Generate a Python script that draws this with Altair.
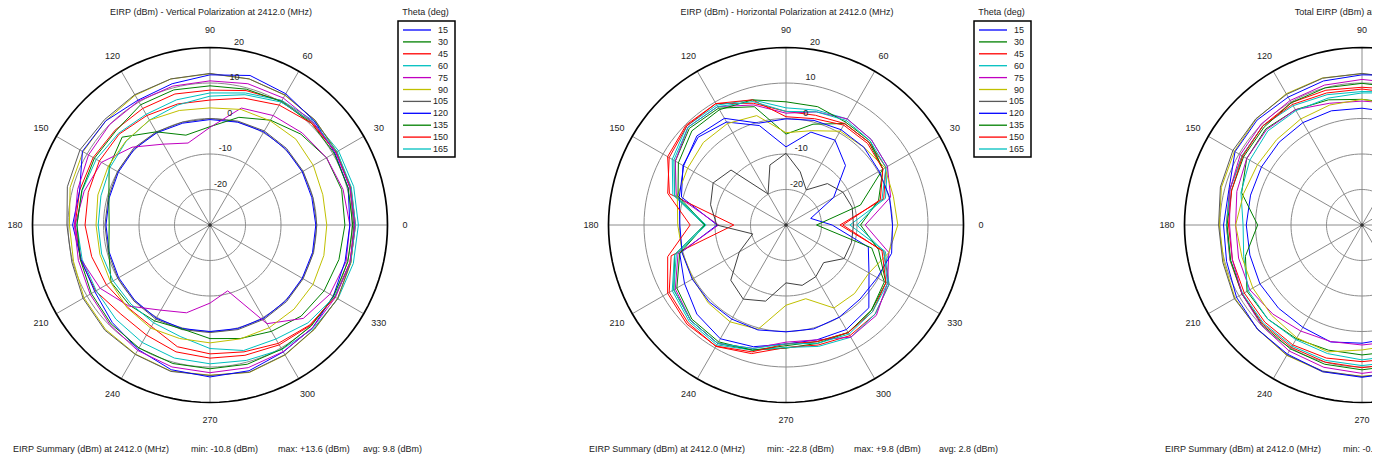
import altair as alt
import pandas as pd

# ---------------- data (dBm), phi = 0..345 step 15 ----------------
PHI = list(range(0, 360, 15))
THETA_LABELS = ["15", "30", "45", "60", "75", "90", "105", "120", "135", "150", "165"]
THETA_COLORS = ["blue", "green", "red", "cyan", "magenta", "yellow", "gray",
                "blue", "green", "red", "cyan"]
RING_VALUES = [-20, -10, 0, 10]
RING_LABELS = [20, 10, 0, -10, -20]
ANGLE_TICKS = list(range(0, 360, 30))

PANEL_TITLES = ["EIRP (dBm)  - Vertical Polarization at 2412.0 (MHz)",
                "EIRP (dBm) - Horizontal Polarization at 2412.0 (MHz)",
                "Total EIRP (dBm) at 2412.0 (MHz)"]
SUMMARY_LABEL = "EIRP Summary (dBm) at 2412.0 (MHz)"
SUMMARY_MIN = ["-10.8", "-22.8", "-0.6"]
SUMMARY_MAX = ["+13.6", "+9.8"]
SUMMARY_AVG = ["9.8", "2.8"]

# Vertical polarization
V_BLUE_IN = [-0.2, -0.3, 0.0, 0.2, 0.3, 0.0, -0.3, -0.3, 0.0, 0.2, -0.2, -0.6, -0.7, -0.6, -0.3, 0.0, 0.3, 0.2, 0.0, 0.2, 0.3, 0.2, 0.0, -0.1]
V_GRAY_IN = [0.1, 0.0, 0.3, 0.5, 0.6, 0.3, 0.0, 0.0, 0.3, 0.5, 0.1, -0.3, -0.4, -0.3, 0.0, 0.3, 0.6, 0.5, 0.3, 0.5, 0.6, 0.5, 0.3, 0.2]
V_GREEN_DIP = [8.0, 8.4, 7.9, 6.2, 4.1, 1.4, -2.3, -3.8, 0.3, 5.0, 2.8, -0.5, -1.6, -0.5, 2.2, 2.0, 1.2, 0.3, 2.0, 3.1, 4.6, 6.3, 7.1, 7.6]
V_RED_OUT = [10.8, 10.9, 11.0, 10.8, 10.4, 9.2, 8.0, 8.2, 7.9, 7.8, 8.0, 8.0, 8.0, 7.8, 7.2, 5.5, 5.8, 7.0, 7.5, 8.0, 9.0, 10.0, 10.6, 10.8]
V_CYAN_OUT = [11.8, 11.9, 11.8, 11.4, 10.5, 8.5, 7.2, 6.5, 6.0, 6.5, 7.0, 7.3, 7.5, 7.3, 7.0, 7.5, 8.2, 8.8, 9.1, 9.5, 10.5, 11.2, 11.6, 11.8]
V_MAG_DIP = [9.4, 8.8, 7.9, 6.7, 5.6, 4.1, -2.5, -6.1, -3.7, 1.0, 5.3, 6.7, 8.0, 7.6, 5.7, 2.3, -2.3, -4.4, -8.0, -10.8, 2.1, 7.2, 9.0, 9.7]
V_YEL_OUT = [10.8, 11.0, 11.3, 11.8, 12.2, 12.6, 12.6, 12.6, 12.2, 11.5, 11.3, 10.8, 9.6, 9.8, 11.0, 11.6, 12.0, 12.6, 12.3, 13.0, 12.3, 11.6, 11.5, 11.1]
V_GRAY_OUT = [10.5, 10.8, 11.2, 11.8, 12.3, 12.6, 12.7, 12.6, 12.4, 12.0, 12.3, 11.6, 10.3, 10.3, 11.3, 11.9, 12.1, 12.7, 12.4, 12.9, 12.2, 11.5, 11.5, 11.0]
V_BLUE_OUT = [9.4, 10.3, 10.6, 11.5, 12.7, 13.6, 12.3, 11.2, 10.6, 11.5, 11.5, 8.0, 8.7, 7.6, 7.5, 8.9, 10.5, 12.2, 12.8, 12.5, 11.3, 10.9, 10.1, 9.4]
V_GREEN_OUT = [10.2, 10.3, 10.4, 10.5, 10.2, 9.6, 9.2, 9.4, 9.1, 7.5, 7.6, 7.4, 7.5, 7.8, 8.6, 9.4, 10.0, 10.4, 10.5, 10.6, 10.4, 10.3, 10.2, 10.2]
V_RED_IN = [11.0, 11.1, 11.0, 10.5, 9.0, 7.0, 5.2, 5.3, 5.6, 6.2, 6.0, 5.5, 5.2, 4.5, 3.7, 2.8, 3.0, 5.5, 6.3, 7.0, 8.5, 9.8, 10.6, 11.0]
V_CYAN_IN = [11.0, 11.2, 11.3, 11.0, 10.0, 8.0, 6.3, 5.0, 4.1, 3.4, 2.5, 1.8, 1.5, 1.6, 1.5, 1.5, 1.8, 2.5, 4.8, 6.6, 7.1, 9.0, 10.5, 11.0]
V_YEL_IN = [2.9, 2.9, 3.6, 4.2, 3.9, 3.7, 3.0, 3.4, 4.1, 3.5, 3.1, 2.7, 2.1, 2.1, 2.3, 3.0, 3.5, 3.1, 3.2, 3.2, 3.4, 3.5, 3.5, 3.2]
V_MAG_OUT = [10.8, 10.8, 10.9, 11.0, 11.3, 11.2, 10.6, 10.5, 10.3, 10.0, 9.5, 8.6, 8.2, 8.4, 9.0, 9.8, 10.8, 11.4, 11.6, 11.6, 11.2, 10.9, 10.8, 10.8]

# Horizontal polarization
H_BLUE_DIP = [-17.0, -22.8, -14.5, -6.3, -2.4, -2.9, -8.0, -1.0, 3.5, 5.0, 3.5, 0.5, -10.6, 1.0, 3.0, 5.5, 7.0, 5.5, 3.5, 3.5, 4.0, 3.0, -3.0, -6.0]
H_GREEN_V = [-21.4, -8.3, 1.5, 3.0, 3.0, -0.6, -4.4, 4.5, 8.0, 8.5, 6.0, 2.5, -7.0, 2.5, 6.5, 8.0, 8.5, 6.5, 4.7, 4.5, 5.0, 4.0, 2.0, -5.0]
H_RED = [-14.8, -1.5, 2.5, 3.0, 3.0, 2.0, 2.0, 5.5, 9.5, 9.8, 8.5, 4.0, -15.3, 3.5, 8.0, 9.0, 9.5, 7.5, 4.5, 5.0, 6.0, 5.5, 3.5, -1.5]
H_CYAN = [-12.0, -1.0, 3.0, 4.0, 4.5, 3.5, 3.0, 6.5, 9.0, 9.5, 7.0, 3.0, -7.0, 2.5, 7.0, 8.5, 9.0, 6.5, 4.5, 5.4, 6.5, 5.5, 3.5, -1.0]
H_MAG = [-7.7, 0.5, 3.0, 4.0, 4.5, 3.0, 1.5, 5.0, 8.5, 9.0, 6.0, 2.0, -11.0, 1.5, 6.0, 8.0, 8.5, 6.0, 3.0, 3.5, 6.5, 6.0, 3.0, 0.0]
H_YEL = [1.5, 1.3, 2.2, 1.0, 0.5, -2.5, -4.0, 1.9, 3.0, 2.9, 2.0, 1.7, 0.5, 0.2, 0.3, 1.0, 1.5, 0.4, -7.4, -8.5, -3.0, -2.7, -3.0, 0.0]
H_GRAY = [-11.0, -10.7, -11.5, -13.5, -18.6, -14.5, -9.8, -12.5, -19.9, -8.1, -6.3, -8.0, -10.5, -20.3, -14.8, -8.0, -5.9, -7.8, -13.7, -12.4, -13.2, -15.0, -11.1, -10.9]
H_BLUE_R = [0.0, 0.2, 0.3, 1.0, 1.0, 0.5, -0.1, -0.3, 4.7, 5.5, 3.3, 1.1, -0.1, 0.3, 0.5, 0.6, 0.6, 0.6, 0.1, 0.3, 0.0, -0.5, -0.3, 0.8]
H_GREEN = [-9.0, -3.0, 1.5, 3.5, 3.5, 4.5, 4.7, 6.5, 7.5, 7.5, 5.0, 1.5, -7.2, 1.0, 5.5, 7.5, 8.0, 6.5, 4.0, 4.0, 5.0, 4.0, 2.5, -3.0]
H_RED2 = [-14.0, -2.5, 1.5, 2.5, 2.5, 1.0, 0.5, 6.5, 9.5, 9.5, 8.0, 4.5, -3.0, 4.5, 8.5, 9.5, 9.4, 7.0, 3.5, 4.0, 5.0, 4.5, 2.5, -2.0]
H_CYAN2 = [-10.0, -2.0, 2.5, 3.5, 4.0, 3.0, 2.0, 6.0, 8.5, 9.0, 6.5, 2.5, -7.5, 2.0, 6.5, 8.0, 8.5, 6.0, 3.5, 4.5, 5.5, 4.5, 3.0, -1.5]

# Total
T_BLUE_IN = [2.5, 2.5, 2.8, 3.0, 3.0, 2.9, 2.9, 3.3, 3.3, 3.0, 2.7, 2.5, 2.6, 2.7, 3.2, 3.2, 3.3, 4.1, 3.3, 3.0, 3.0, 2.8, 2.6, 2.5]
T_GREEN_V = [8.0, 8.4, 8.0, 7.0, 6.0, 5.5, 5.4, 6.5, 7.5, 8.3, 7.5, 5.1, -0.6, 4.0, 7.4, 7.5, 7.0, 6.5, 6.6, 6.8, 7.0, 7.2, 7.5, 7.8]
T_RED = [11.0, 11.0, 11.0, 10.8, 10.4, 9.5, 8.8, 9.3, 9.8, 9.5, 9.0, 8.6, 8.2, 8.5, 9.0, 9.5, 9.8, 10.0, 10.2, 10.3, 10.3, 10.5, 10.8, 11.0]
T_CYAN = [11.8, 11.8, 11.6, 11.2, 10.3, 8.8, 7.6, 8.0, 8.8, 9.5, 9.0, 8.5, 8.2, 8.4, 8.8, 9.2, 9.4, 9.5, 9.6, 9.8, 10.5, 11.2, 11.6, 11.8]
T_MAG = [9.5, 9.0, 8.5, 7.5, 6.5, 5.5, 4.9, 5.5, 7.5, 8.0, 7.5, 6.5, 5.6, 6.0, 6.5, 5.5, 4.5, 4.0, 3.8, 4.0, 6.5, 8.0, 9.0, 9.5]
T_YEL_OUT = [11.8, 11.8, 12.2, 12.5, 12.8, 12.9, 12.6, 12.9, 12.7, 12.2, 11.5, 11.0, 10.2, 10.3, 11.3, 11.6, 12.4, 12.8, 12.6, 13.2, 12.8, 12.3, 12.0, 11.8]
T_GRAY = [11.5, 11.5, 12.0, 12.3, 12.6, 12.8, 12.7, 12.8, 12.5, 12.3, 12.0, 11.3, 10.4, 10.6, 11.5, 11.5, 12.3, 12.6, 12.7, 13.0, 12.6, 12.0, 11.8, 11.5]
T_BLUE_OUT = [10.5, 11.0, 11.5, 12.0, 12.8, 13.6, 12.3, 12.0, 11.6, 11.8, 11.3, 8.8, 9.0, 9.5, 10.8, 11.6, 12.0, 12.8, 12.9, 12.8, 12.0, 11.5, 11.0, 10.5]
T_GREEN = [10.5, 10.5, 10.6, 10.6, 10.4, 10.0, 9.9, 10.0, 9.8, 9.0, 8.5, 8.0, 8.0, 8.3, 9.0, 9.8, 10.3, 10.6, 10.8, 10.8, 10.6, 10.5, 10.4, 10.5]
T_RED2 = [11.0, 11.0, 10.8, 10.4, 9.2, 8.4, 8.3, 8.5, 9.2, 9.5, 8.8, 8.0, 7.6, 7.8, 8.3, 8.7, 9.0, 8.8, 8.5, 8.8, 9.5, 10.2, 10.7, 11.0]
T_CYAN2 = [11.0, 11.0, 11.0, 10.8, 10.0, 8.5, 7.2, 7.0, 7.2, 7.5, 6.5, 5.3, 3.5, 4.5, 7.0, 7.5, 7.3, 7.5, 8.0, 8.0, 8.5, 9.5, 10.5, 11.0]
T_MAG_OUT = [11.0, 11.0, 11.2, 11.3, 11.5, 11.3, 11.0, 10.8, 10.5, 10.2, 9.6, 8.5, 7.3, 7.8, 9.0, 10.0, 11.0, 11.5, 11.8, 11.8, 11.5, 11.2, 11.0, 11.0]
T_YEL_IN = [4.5, 4.5, 5.0, 5.3, 5.2, 5.0, 5.4, 5.0, 4.5, 4.0, 4.0, 4.5, 5.6, 5.0, 5.5, 6.0, 6.7, 7.0, 5.2, 5.0, 4.8, 4.6, 4.5, 4.5]

PANELS = [
    [("gray", V_GRAY_IN), ("blue", V_BLUE_IN), ("green", V_GREEN_DIP), ("red", V_RED_OUT),
     ("cyan", V_CYAN_OUT), ("magenta", V_MAG_DIP), ("yellow", V_YEL_OUT), ("gray", V_GRAY_OUT),
     ("blue", V_BLUE_OUT), ("green", V_GREEN_OUT), ("red", V_RED_IN), ("cyan", V_CYAN_IN),
     ("yellow", V_YEL_IN), ("magenta", V_MAG_OUT)],
    [("blue", H_BLUE_DIP), ("green", H_GREEN_V), ("red", H_RED), ("cyan", H_CYAN),
     ("magenta", H_MAG), ("yellow", H_YEL), ("dark", H_GRAY), ("blue", H_BLUE_R),
     ("green", H_GREEN), ("red", H_RED2), ("cyan", H_CYAN2)],
    [("blue", T_BLUE_IN), ("green", T_GREEN_V), ("red", T_RED), ("cyan", T_CYAN),
     ("magenta", T_MAG), ("yellow", T_YEL_OUT), ("gray", T_GRAY), ("blue", T_BLUE_OUT),
     ("green", T_GREEN), ("red", T_RED2), ("cyan", T_CYAN2), ("magenta", T_MAG_OUT),
     ("yellow", T_YEL_IN)],
]

PALETTE = {"blue": "#0000ff", "green": "#008000", "red": "#ff0000", "cyan": "#00c0c0",
           "magenta": "#c000c0", "yellow": "#c0c000", "gray": "#5a5a5a", "dark": "#404040"}

# ---------------- layout constants ----------------
FONT = "Liberation Sans"
W, H = 1364, 446
K = 3.55            # px per dB
CX = "(210 + datum.panel * 576)"
CY = 225
XS = alt.Scale(domain=[8, 8 + W], nice=False, zero=False)
YS = alt.Scale(domain=[8, 8 + H], nice=False, zero=False, reverse=True)
VISIBLE_PANELS_FULL = [0, 1]   # the third panel is cut by the window's right edge


def X(f):
    return alt.X(f, type="quantitative", scale=XS, axis=None)


def Y(f):
    return alt.Y(f, type="quantitative", scale=YS, axis=None)


# ---------------- tables ----------------
rows = []
for p, curves in enumerate(PANELS):
    for i, (ck, vals) in enumerate(curves):
        for phi, v in zip(PHI, vals):
            rows.append({"panel": p, "curve": f"{p}-{i}", "ck": ck, "phi": phi, "val": v})
curves_df = pd.DataFrame(rows)

ring_rows = []
for p in range(3):
    for rv in RING_VALUES + [20]:
        for a in range(0, 360, 3):
            ring_rows.append({"panel": p, "ring": rv, "a": a})
rings_df = pd.DataFrame(ring_rows)

spokes_df = pd.DataFrame([{"panel": p, "ang": a} for p in range(3) for a in ANGLE_TICKS])
alab_df = pd.DataFrame([{"panel": p, "ang": a} for p in range(3) for a in ANGLE_TICKS
                        if p in VISIBLE_PANELS_FULL or 90 <= a <= 270])
rlab_df = pd.DataFrame([{"panel": p, "ring": v, "label": str(v)}
                        for p in VISIBLE_PANELS_FULL for v in RING_LABELS])
leg_df = pd.DataFrame([{"panel": p, "i": i, "label": t, "ck": c}
                       for p in VISIBLE_PANELS_FULL
                       for i, (t, c) in enumerate(zip(THETA_LABELS, THETA_COLORS))])
box_df = pd.DataFrame([{"panel": p} for p in VISIBLE_PANELS_FULL])
dot_df = pd.DataFrame([{"panel": p} for p in range(3)])

center_texts = []
left_texts = []
for p in range(3):
    center_texts.append({"panel": p, "dx": 1, "y": 12, "text": PANEL_TITLES[p]})
    if p in VISIBLE_PANELS_FULL:
        center_texts.append({"panel": p, "dx": 215.5, "y": 12, "text": "Theta (deg)"})
    left_texts.append({"panel": p, "dx": -197, "text": SUMMARY_LABEL})
    left_texts.append({"panel": p, "dx": -19, "text": f"min: {SUMMARY_MIN[p]} (dBm)"})
    if p < len(SUMMARY_MAX):
        left_texts.append({"panel": p, "dx": 68, "text": f"max: {SUMMARY_MAX[p]} (dBm)"})
        left_texts.append({"panel": p, "dx": 153, "text": f"avg: {SUMMARY_AVG[p]} (dBm)"})
ctext_df = pd.DataFrame(center_texts)
ltext_df = pd.DataFrame(left_texts)

color_scale = alt.Scale(domain=list(PALETTE.keys()), range=list(PALETTE.values()))

# ---------------- layers ----------------
ring_base = alt.Chart(rings_df).transform_calculate(
    x=f"{CX} + (datum.ring + 30) * {K} * cos(datum.a * PI / 180)",
    y=f"{CY} - (datum.ring + 30) * {K} * sin(datum.a * PI / 180)",
    key="datum.panel + '_' + datum.ring",
)
rings = ring_base.transform_filter("datum.ring < 20").mark_line(
    interpolate="linear-closed", stroke="#8c8c8c", strokeWidth=1
).encode(x=X("x"), y=Y("y"), detail="key:N", order="a:Q")
outer = ring_base.transform_filter("datum.ring == 20").mark_line(
    interpolate="linear-closed", stroke="#000000", strokeWidth=1.7
).encode(x=X("x"), y=Y("y"), detail="key:N", order="a:Q")

spokes = alt.Chart(spokes_df).transform_calculate(
    x=CX, y=f"{CY}",
    x2=f"{CX} + 50 * {K} * cos(datum.ang * PI / 180)",
    y2=f"{CY} - 50 * {K} * sin(datum.ang * PI / 180)",
).mark_rule(color="#8c8c8c", strokeWidth=1).encode(
    x=X("x"), y=Y("y"), x2=alt.X2("x2:Q"), y2=alt.Y2("y2:Q"))

lines = alt.Chart(curves_df).transform_calculate(
    x=f"{CX} + (datum.val + 30) * {K} * cos(datum.phi * PI / 180)",
    y=f"{CY} - (datum.val + 30) * {K} * sin(datum.phi * PI / 180)",
).mark_line(interpolate="linear-closed", strokeWidth=1).encode(
    x=X("x"), y=Y("y"), detail="curve:N", order="phi:Q",
    color=alt.Color("ck:N", scale=color_scale, legend=None))

center_dot = alt.Chart(dot_df).transform_calculate(x=CX, y=f"{CY}").mark_point(
    filled=True, size=14, color="#333333", opacity=1).encode(x=X("x"), y=Y("y"))

angle_labels = alt.Chart(alab_df).transform_calculate(
    x=f"{CX} + 195 * cos(datum.ang * PI / 180)",
    y=f"{CY} - 195 * sin(datum.ang * PI / 180)",
).mark_text(font=FONT, fontSize=9, color="#222222", align="center", baseline="middle").encode(
    x=X("x"), y=Y("y"), text="ang:N")

ring_labels = alt.Chart(rlab_df).transform_calculate(
    r=f"(datum.ring + 30) * {K}",
).transform_calculate(
    x=f"{CX} + 6 + 0.13 * datum.r", y=f"{CY} - datum.r - 6",
).mark_text(font=FONT, fontSize=9, color="#222222", align="center", baseline="middle").encode(
    x=X("x"), y=Y("y"), text="label:N")

legend_box = alt.Chart(box_df).transform_calculate(
    x=f"{CX} + 188", x2=f"{CX} + 245", y="21", y2="157",
).mark_rect(fillOpacity=0, stroke="#000000", strokeWidth=1.5).encode(
    x=X("x"), x2=alt.X2("x2:Q"), y=Y("y"), y2=alt.Y2("y2:Q"))

legend_lines = alt.Chart(leg_df).transform_calculate(
    x=f"{CX} + 193", x2=f"{CX} + 221", y="30 + 11.9 * datum.i",
).mark_rule(strokeWidth=1.3).encode(
    x=X("x"), x2=alt.X2("x2:Q"), y=Y("y"),
    color=alt.Color("ck:N", scale=color_scale, legend=None))

legend_text = alt.Chart(leg_df).transform_calculate(
    x=f"{CX} + 238", y="30 + 11.9 * datum.i",
).mark_text(font=FONT, fontSize=9, color="#222222", align="right", baseline="middle").encode(
    x=X("x"), y=Y("y"), text="label:N")

ctexts = alt.Chart(ctext_df).transform_calculate(x=f"{CX} + datum.dx").mark_text(
    font=FONT, fontSize=9, color="#222222", align="center", baseline="middle").encode(
    x=X("x"), y=Y("y:Q"), text="text:N")

ltexts = alt.Chart(ltext_df).transform_calculate(x=f"{CX} + datum.dx", y="449").mark_text(
    font=FONT, fontSize=9, color="#222222", align="left", baseline="middle").encode(
    x=X("x"), y=Y("y"), text="text:N")

chart = alt.layer(
    rings, spokes, outer, lines, center_dot, angle_labels, ring_labels,
    legend_box, legend_lines, legend_text, ctexts, ltexts,
).properties(
    width=W, height=H, padding=0, autosize=alt.AutoSizeParams(type="none"),
    background="white",
).configure_view(strokeWidth=0)

chart.save("out.html", embed_options={"renderer": "svg", "actions": False})
